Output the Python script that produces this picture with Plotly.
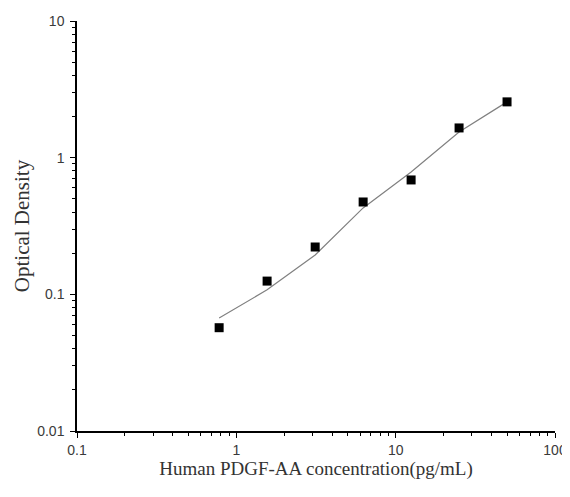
import plotly.graph_objects as go

conc = [0.78, 1.56, 3.125, 6.25, 12.5, 25, 50]
od = [0.057, 0.125, 0.222, 0.474, 0.687, 1.65, 2.56]
fit_od = [0.067, 0.108, 0.194, 0.429, 0.786, 1.54, 2.56]

fig = go.Figure()
fig.add_trace(go.Scatter(x=conc, y=fit_od, mode="lines",
                         line=dict(color="#808080", width=1.2), showlegend=False))
fig.add_trace(go.Scatter(x=conc, y=od, mode="markers",
                         marker=dict(symbol="square", size=9, color="black"), showlegend=False))

fig.update_layout(
    width=562, height=489,
    margin=dict(l=69, r=15, t=13, b=66),
    paper_bgcolor="white", plot_bgcolor="white",
    font=dict(family="Liberation Sans, Arial", color="#3a3a3a", size=14),
)
fig.update_xaxes(
    type="log", range=[-1, 2], tickvals=[0.1, 1, 10, 100], ticktext=["0.1", "1", "10", "100"],
    automargin=False,
    showline=True, linecolor="black", linewidth=1.5, showgrid=False, zeroline=False,
    ticks="outside", ticklen=5, tickcolor="black", tickwidth=1.2,
    minor=dict(ticks="outside", ticklen=3, tickcolor="black", tickwidth=1,
               tickvals=[m * 10 ** e for e in [-1, 0, 1] for m in range(2, 10)], showgrid=False),
    title=dict(text="Human PDGF-AA concentration(pg/mL)",
               font=dict(family="Liberation Serif, Times New Roman", size=19, color="#333333"),
               standoff=4),
)
fig.update_yaxes(
    type="log", range=[-2, 1], tickvals=[0.01, 0.1, 1, 10], ticktext=["0.01", "0.1", "1", "10"],
    automargin=False, ticklabelstandoff=3,
    showline=True, linecolor="black", linewidth=1.5, showgrid=False, zeroline=False,
    ticks="outside", ticklen=5, tickcolor="black", tickwidth=1.2,
    minor=dict(ticks="outside", ticklen=3, tickcolor="black", tickwidth=1,
               tickvals=[m * 10 ** e for e in [-2, -1, 0] for m in range(2, 10)], showgrid=False),
    title=dict(text="Optical Density",
               font=dict(family="Liberation Serif, Times New Roman", size=21, color="#333333"),
               standoff=2),
)
fig.write_html("out.html")
